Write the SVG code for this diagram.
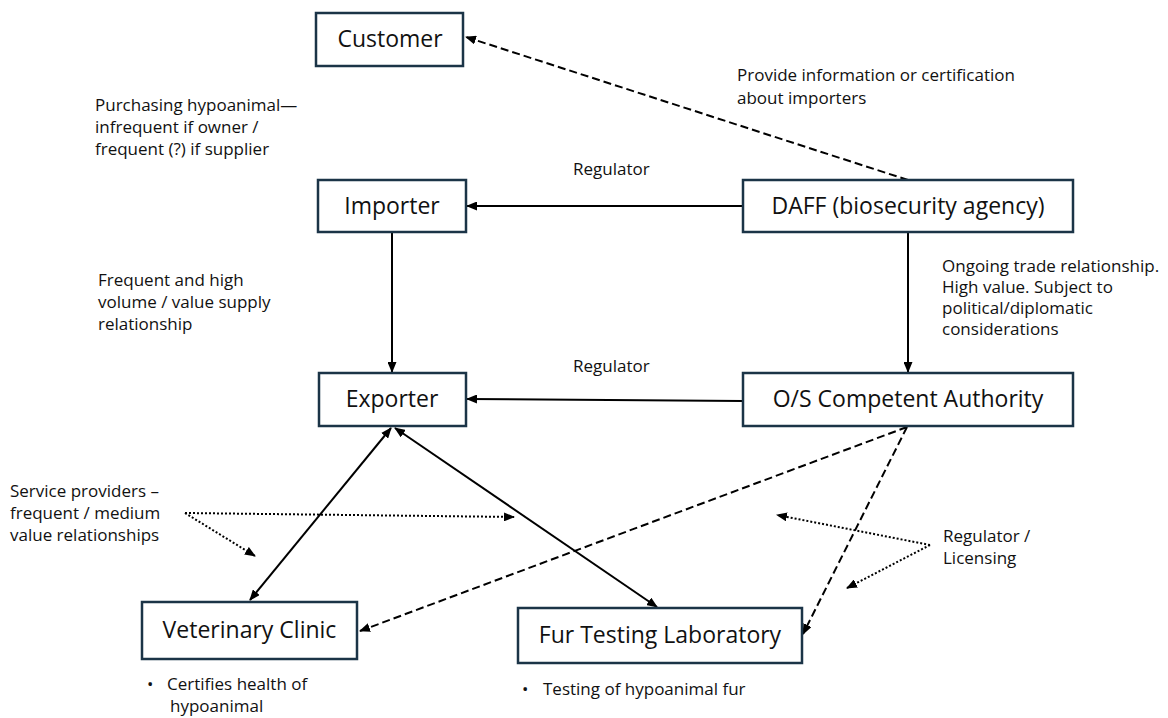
<svg xmlns="http://www.w3.org/2000/svg" width="1168" height="718" viewBox="0 0 1168 718">
  <style>
    .box { fill: #ffffff; stroke: #1b3447; stroke-width: 2.5; }
    .lbl { font-family: "Open Sans", "Liberation Sans", sans-serif; font-size: 23px; fill: #111111; text-anchor: middle; }
    .note { font-family: "Open Sans", "Liberation Sans", sans-serif; font-size: 17px; fill: #111111; }
    .solid { stroke: #000000; stroke-width: 2; fill: none; }
    .dash { stroke: #000000; stroke-width: 2; fill: none; stroke-dasharray: 8 4; }
    .dot { stroke: #000000; stroke-width: 2; fill: none; stroke-dasharray: 2 2; }
  </style>
  <defs>
    <marker id="ah" markerUnits="userSpaceOnUse" markerWidth="11" markerHeight="9" viewBox="0 0 11 9" refX="10" refY="4.5" orient="auto-start-reverse">
      <path d="M0,0 L11,4.5 L0,9 z" fill="#000000"/>
    </marker>
  </defs>

  <g id="connectors">
    <line class="dash" x1="908" y1="180" x2="466" y2="37" marker-end="url(#ah)"/>
    <line class="solid" x1="743" y1="206" x2="467" y2="206" marker-end="url(#ah)"/>
    <line class="solid" x1="392" y1="232" x2="392" y2="372" marker-end="url(#ah)"/>
    <line class="solid" x1="908" y1="232" x2="908" y2="372" marker-end="url(#ah)"/>
    <line class="solid" x1="743" y1="401" x2="467" y2="399" marker-end="url(#ah)"/>
    <line class="solid" x1="391" y1="428" x2="250" y2="600" marker-start="url(#ah)" marker-end="url(#ah)"/>
    <line class="solid" x1="395" y1="428" x2="657" y2="607" marker-start="url(#ah)" marker-end="url(#ah)"/>
    <line class="dash" x1="907" y1="427" x2="360" y2="631" marker-end="url(#ah)"/>
    <line class="dash" x1="907" y1="427" x2="803" y2="634" marker-end="url(#ah)"/>
    <line class="dot" x1="185" y1="513" x2="514" y2="517" marker-end="url(#ah)"/>
    <line class="dot" x1="185" y1="513" x2="255" y2="556" marker-end="url(#ah)"/>
    <line class="dot" x1="930" y1="545" x2="777" y2="515" marker-end="url(#ah)"/>
    <line class="dot" x1="930" y1="545" x2="847" y2="588" marker-end="url(#ah)"/>
  </g>

  <g id="customer">
    <rect class="box" x="316" y="13" width="147" height="53"/>
    <text class="lbl" x="390" y="47">Customer</text>
  </g>
  <g id="importer">
    <rect class="box" x="318" y="180" width="148" height="52"/>
    <text class="lbl" x="392" y="214">Importer</text>
  </g>
  <g id="daff">
    <rect class="box" x="743" y="180" width="330" height="52"/>
    <text class="lbl" x="908" y="214">DAFF (biosecurity agency)</text>
  </g>
  <g id="exporter">
    <rect class="box" x="319" y="373" width="147" height="53"/>
    <text class="lbl" x="392" y="407">Exporter</text>
  </g>
  <g id="os-authority">
    <rect class="box" x="743" y="373" width="330" height="53"/>
    <text class="lbl" x="908" y="407">O/S Competent Authority</text>
  </g>
  <g id="vet-clinic">
    <rect class="box" x="142" y="602" width="215" height="57"/>
    <text class="lbl" x="249.5" y="638">Veterinary Clinic</text>
  </g>
  <g id="fur-lab">
    <rect class="box" x="518" y="608" width="284" height="55"/>
    <text class="lbl" x="660" y="643">Fur Testing Laboratory</text>
  </g>

  <g id="labels">
    <text class="note" x="737" y="81">Provide information or certification</text>
    <text class="note" x="737" y="104">about importers</text>
    <text class="note" x="95" y="111">Purchasing hypoanimal—</text>
    <text class="note" x="95" y="133">infrequent if owner /</text>
    <text class="note" x="95" y="155">frequent (?) if supplier</text>
    <text class="note" x="573" y="175">Regulator</text>
    <text class="note" x="98" y="286">Frequent and high</text>
    <text class="note" x="98" y="308">volume / value supply</text>
    <text class="note" x="98" y="330">relationship</text>
    <text class="note" x="942" y="272">Ongoing trade relationship.</text>
    <text class="note" x="942" y="293">High value. Subject to</text>
    <text class="note" x="942" y="314">political/diplomatic</text>
    <text class="note" x="942" y="335">considerations</text>
    <text class="note" x="573" y="372">Regulator</text>
    <text class="note" x="10" y="497">Service providers –</text>
    <text class="note" x="10" y="519">frequent / medium</text>
    <text class="note" x="10" y="541">value relationships</text>
    <text class="note" x="943" y="542">Regulator /</text>
    <text class="note" x="943" y="564">Licensing</text>
    <text class="note" x="147" y="690">•</text>
    <text class="note" x="167" y="690">Certifies health of</text>
    <text class="note" x="170" y="712">hypoanimal</text>
    <text class="note" x="522" y="695">•</text>
    <text class="note" x="543" y="695">Testing of hypoanimal fur</text>
  </g>
</svg>
